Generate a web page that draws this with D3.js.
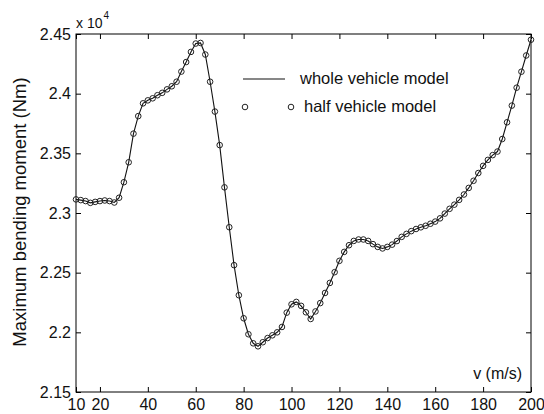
<!DOCTYPE html>
<html>
<head>
<meta charset="utf-8">
<script src="https://cdn.jsdelivr.net/npm/d3@7"></script>
<style>
  html, body { margin: 0; padding: 0; background: #fff; }
  svg { display: block; font-family: "Liberation Sans", Arial, sans-serif; }
</style>
</head>
<body>
<svg id="chart" width="544" height="414"></svg>
<script>
// Speed of the vehicle, m/s (sampled every 2 m/s)
const speeds = d3.range(10, 201, 2);

// Maximum bending moment, in units of 1e4 Nm
const wholeModel = [
  2.3114, 2.3108, 2.3100, 2.3085, 2.3093, 2.3100, 2.3105, 2.3100, 2.3088, 2.3128,
  2.3258, 2.3425, 2.3665, 2.3812, 2.3919, 2.3944, 2.3961, 2.3987, 2.4007, 2.4036,
  2.4062, 2.4100, 2.4185, 2.4265, 2.4350, 2.4420, 2.4425, 2.4328, 2.4100, 2.3850,
  2.3569, 2.3215, 2.2881, 2.2563, 2.2311, 2.2118, 2.1984, 2.1908, 2.1883, 2.1917,
  2.1952, 2.1975, 2.2000, 2.2045, 2.2165, 2.2235, 2.2255, 2.2222, 2.2168, 2.2112,
  2.2175, 2.2245, 2.2330, 2.2414, 2.2504, 2.2599, 2.2674, 2.2730, 2.2766, 2.2778,
  2.2778, 2.2766, 2.2739, 2.2716, 2.2703, 2.2716, 2.2735, 2.2765, 2.2800, 2.2825,
  2.2848, 2.2866, 2.2880, 2.2893, 2.2910, 2.2928, 2.2955, 2.2995, 2.3035, 2.3070,
  2.3110, 2.3155, 2.3210, 2.3270, 2.3335, 2.3395, 2.3445, 2.3485, 2.3515, 2.3620,
  2.3760, 2.3900, 2.4050, 2.4184, 2.4320, 2.4452
];
const halfModel = wholeModel.slice();

const xTicks = [10, 20, 40, 60, 80, 100, 120, 140, 160, 180, 200];
const yTicks = [2.15, 2.2, 2.25, 2.3, 2.35, 2.4, 2.45];
const legendLabels = ["whole vehicle model", "half vehicle model"];

const svg = d3.select("#chart");
const plotLeft = 76, plotRight = 531, plotTop = 34, plotBottom = 392;

const x = d3.scaleLinear().domain([10, 200]).range([plotLeft, plotRight]);
const y = d3.scaleLinear().domain([2.15, 2.45]).range([plotBottom, plotTop]);

const fmt = d => String(+d.toFixed(2));

// axes with inward ticks on all four sides
const axisStyle = g => {
  g.select(".domain").remove();
  g.selectAll(".tick line").attr("stroke", "#000");
  g.selectAll(".tick text").attr("fill", "#111").attr("font-size", 16)
    .attr("font-family", "Liberation Sans, Arial, sans-serif");
};

svg.append("g").attr("transform", `translate(0,${plotBottom})`)
  .call(d3.axisBottom(x).tickValues(xTicks).tickFormat(d3.format("d")).tickSize(-5).tickPadding(7))
  .call(axisStyle);
svg.append("g").attr("transform", `translate(0,${plotTop})`)
  .call(d3.axisTop(x).tickValues(xTicks).tickFormat("").tickSize(-5))
  .call(axisStyle);
svg.append("g").attr("transform", `translate(${plotLeft},0)`)
  .call(d3.axisLeft(y).tickValues(yTicks).tickFormat(fmt).tickSize(-5).tickPadding(5))
  .call(axisStyle);
svg.append("g").attr("transform", `translate(${plotRight},0)`)
  .call(d3.axisRight(y).tickValues(yTicks).tickFormat("").tickSize(-5))
  .call(axisStyle);

// plot frame
svg.append("rect")
  .attr("x", plotLeft).attr("y", plotTop)
  .attr("width", plotRight - plotLeft).attr("height", plotBottom - plotTop)
  .attr("fill", "none").attr("stroke", "#000").attr("stroke-width", 1);

// whole vehicle model: solid line
const line = d3.line().x((d, i) => x(speeds[i])).y(d => y(d));
svg.append("path")
  .datum(wholeModel)
  .attr("d", line)
  .attr("fill", "none").attr("stroke", "#111").attr("stroke-width", 1.1);

// half vehicle model: open circle markers
svg.append("g").selectAll("circle")
  .data(halfModel)
  .join("circle")
  .attr("cx", (d, i) => x(speeds[i]))
  .attr("cy", d => y(d))
  .attr("r", 2.8)
  .attr("fill", "none").attr("stroke", "#222").attr("stroke-width", 1);

// legend
const lg = svg.append("g");
lg.append("line").attr("x1", 243).attr("x2", 285).attr("y1", 79).attr("y2", 79)
  .attr("stroke", "#111").attr("stroke-width", 1.1);
lg.append("text").attr("x", 300).attr("y", 84).attr("font-size", 16.5).attr("fill", "#111")
  .text(legendLabels[0]);
[245, 291].forEach(cx => lg.append("circle").attr("cx", cx).attr("cy", 107).attr("r", 2.8)
  .attr("fill", "none").attr("stroke", "#222").attr("stroke-width", 1));
lg.append("text").attr("x", 304).attr("y", 112).attr("font-size", 16.5).attr("fill", "#111")
  .text(legendLabels[1]);

// axis titles and exponent
svg.append("text")
  .attr("transform", `translate(26,212) rotate(-90)`)
  .attr("text-anchor", "middle").attr("font-size", 18.5).attr("fill", "#111")
  .text("Maximum bending moment (Nm)");
svg.append("text").attr("x", 522).attr("y", 379).attr("text-anchor", "end")
  .attr("font-size", 16).attr("fill", "#111").text("v (m/s)");
const expo = svg.append("text").attr("x", 76).attr("y", 28).attr("font-size", 14).attr("fill", "#111");
expo.append("tspan").text("x 10");
expo.append("tspan").attr("dy", -9).attr("dx", 1).attr("font-size", 10).text("4");
</script>
</body>
</html>
